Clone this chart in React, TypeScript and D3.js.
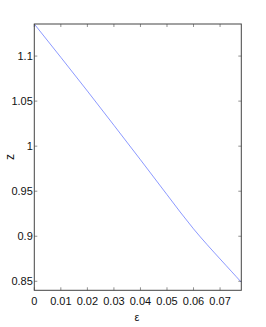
import React from 'react';
import * as d3 from 'd3';

const eps = [0, 0.01, 0.02, 0.03, 0.04, 0.05, 0.06, 0.07, 0.078];
const zVals = [1.1356, 1.0986, 1.0612, 1.0232, 0.9849, 0.9462, 0.9082, 0.8748, 0.849];
const xTicks = [0, 0.01, 0.02, 0.03, 0.04, 0.05, 0.06, 0.07];
const yTicks = [0.85, 0.9, 0.95, 1, 1.05, 1.1];

const W = 266;
const H = 327;
const left = 34.3, right = 241.3, top = 24, bottom = 290.3;

const font = '"Liberation Sans Narrow", "Liberation Sans", Arial, sans-serif';

export default function App() {
  const x = d3.scaleLinear().domain([0, 0.078]).range([left, right]);
  const y = d3.scaleLinear().domain([0.84, 1.1356]).range([bottom, top]);

  const line = d3.line<number>()
    .x((d, i) => x(eps[i]))
    .y(d => y(d))
    .curve(d3.curveNatural);

  const tickLen = 3;
  const axisCol = '#444';

  return (
    <svg width={W} height={H} style={{ position: 'absolute', left: 0, top: 0, background: '#fff' }}>
      <path d={line(zVals) || ''} fill="none" stroke="#6f7fff" strokeWidth={0.8} />

      {xTicks.map(t => (
        <g key={'x' + t}>
          <line x1={x(t)} x2={x(t)} y1={bottom} y2={bottom - tickLen} stroke={axisCol} strokeWidth={0.6} />
          <line x1={x(t)} x2={x(t)} y1={top} y2={top + tickLen} stroke={axisCol} strokeWidth={0.6} />
          <text x={x(t)} y={305} textAnchor="middle" fontFamily={font} fontSize={11} fill="#111">{t}</text>
        </g>
      ))}
      {yTicks.map(t => (
        <g key={'y' + t}>
          <line x1={left} x2={left + tickLen} y1={y(t)} y2={y(t)} stroke={axisCol} strokeWidth={0.6} />
          <line x1={right} x2={right - tickLen} y1={y(t)} y2={y(t)} stroke={axisCol} strokeWidth={0.6} />
          <text x={left - 1.5} y={y(t) + 4} textAnchor="end" fontFamily={font} fontSize={11} fill="#111">{t}</text>
        </g>
      ))}

      <rect x={left} y={top} width={right - left} height={bottom - top} fill="none" stroke={axisCol} strokeWidth={1} />

      <text x={137} y={321} textAnchor="middle" fontFamily={font} fontSize={11} fill="#111">ε</text>
      <text transform={`translate(14,157) rotate(-90)`} textAnchor="middle" fontFamily={font} fontSize={12} fill="#111">z</text>
    </svg>
  );
}
